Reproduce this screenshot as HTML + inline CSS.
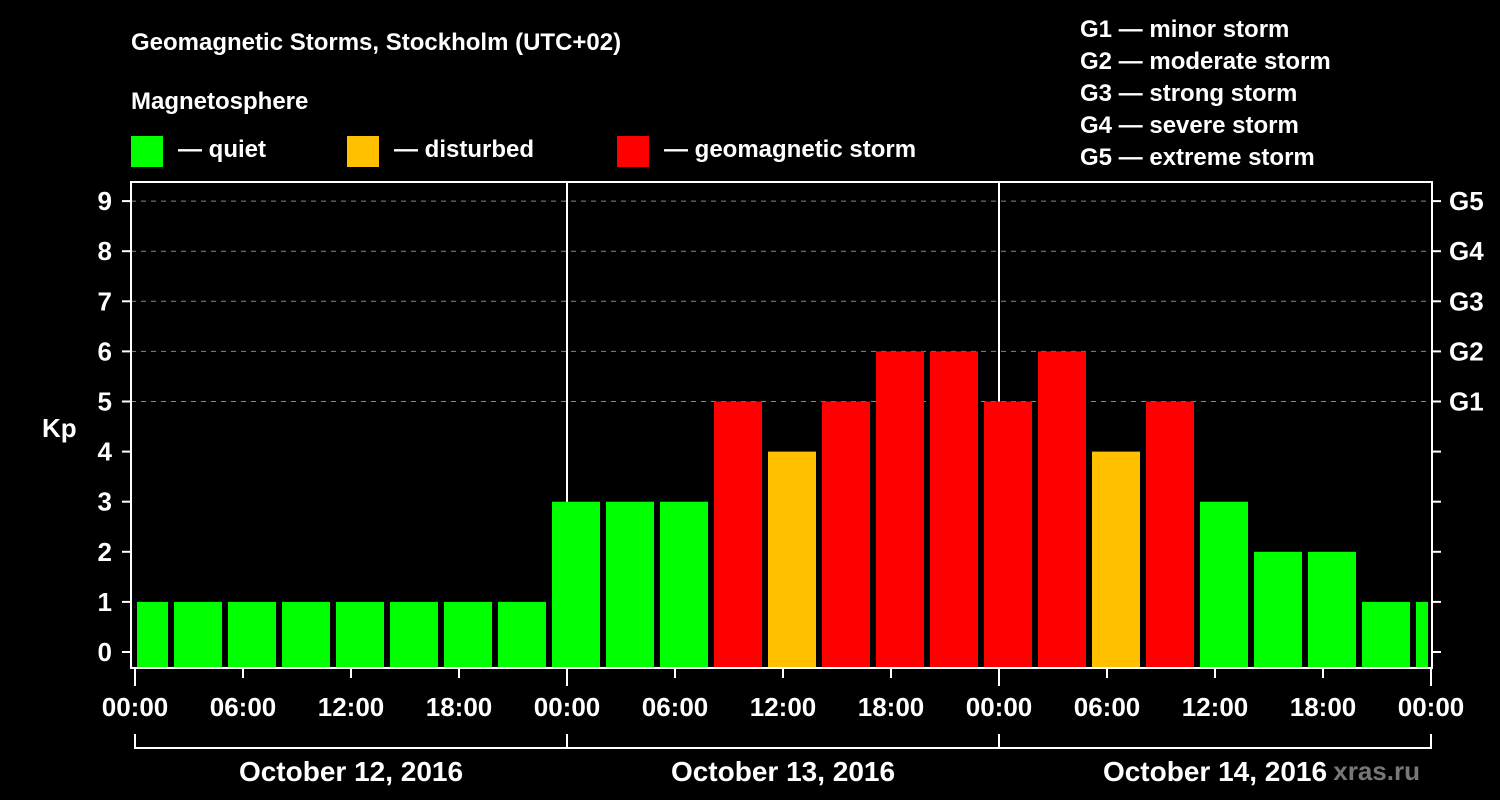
<!DOCTYPE html>
<html><head><meta charset="utf-8"><style>
html,body{margin:0;padding:0;background:#000;}
svg{display:block;font-family:"Liberation Sans",Arial,sans-serif;font-weight:bold;}
</style></head><body>
<svg id="c" width="1500" height="800" xmlns="http://www.w3.org/2000/svg">
<rect width="1500" height="800" fill="#000"/>
<text x="131" y="50" fill="#fff" font-size="24">Geomagnetic Storms, Stockholm (UTC+02)</text>
<text x="131" y="109" fill="#fff" font-size="24">Magnetosphere</text>
<g><rect x="131" y="136" width="32" height="31" fill="#00ff00"/><text x="178" y="157" fill="#fff" font-size="24">— quiet</text></g>
<g><rect x="347" y="136" width="32" height="31" fill="#ffc000"/><text x="394" y="157" fill="#fff" font-size="24">— disturbed</text></g>
<g><rect x="617" y="136" width="32" height="31" fill="#ff0000"/><text x="664" y="157" fill="#fff" font-size="24">— geomagnetic storm</text></g>
<g fill="#fff" font-size="24">
<text x="1080" y="37">G1 — minor storm</text>
<text x="1080" y="69">G2 — moderate storm</text>
<text x="1080" y="101">G3 — strong storm</text>
<text x="1080" y="133">G4 — severe storm</text>
<text x="1080" y="165">G5 — extreme storm</text>
</g>
<text x="42" y="437" fill="#fff" font-size="26">Kp</text>
<text x="1420" y="780" fill="#777" font-size="26" text-anchor="end">xras.ru</text>
<g id="grid"></g><g id="bars"></g><g id="axes"></g>
</svg>
<script>
const kpValues=[1,1,1,1,1,1,1,1,3,3,3,5,4,5,6,6,5,6,4,5,3,2,2,1,1];
const hourTicks=["00:00","06:00","12:00","18:00","00:00","06:00","12:00","18:00","00:00","06:00","12:00","18:00","00:00"];
const dayLabels=["October 12, 2016","October 13, 2016","October 14, 2016"];
const yTicks=[0,1,2,3,4,5,6,7,8,9];
const gLabels=["G1","G2","G3","G4","G5"];
const NS="http://www.w3.org/2000/svg";
const L=131,R=1432,T=182,B=668,X0=135,PXH=18;
const y=v=>652-v*50.1;
const x=h=>X0+h*PXH;
function mk(p,tag,a){const e=document.createElementNS(NS,tag);for(const k in a)e.setAttribute(k,a[k]);p.appendChild(e);return e;}
const grid=document.getElementById('grid'),bars=document.getElementById('bars'),axes=document.getElementById('axes');
yTicks.forEach(v=>{
 if(v>=5){const g=mk(grid,'line',{x1:L,x2:R,y1:y(v),y2:y(v),stroke:'#888','stroke-dasharray':'5,5','stroke-width':1});
 
 }
 const t=mk(axes,'line',{x1:122,x2:L,y1:y(v),y2:y(v),stroke:'#fff','stroke-width':2});
 
 
 const t2=mk(axes,'line',{x1:R,x2:1441,y1:y(v),y2:y(v),stroke:'#fff','stroke-width':2});
 
 
 const lb=mk(axes,'text',{x:112,y:y(v)+9,fill:'#fff','font-size':26,'text-anchor':'end'});lb.textContent=v;
 
 
 if(v>=5){const gl=mk(axes,'text',{x:1449,y:y(v)+9,fill:'#fff','font-size':26});gl.textContent=gLabels[v-5];
 
 }
});
[1,2].forEach(d=>{const l=mk(grid,'line',{x1:x(d*24),x2:x(d*24),y1:T,y2:B,stroke:'#fff','stroke-width':2});
 
 });
const cp=mk(bars,'clipPath',{id:'clip'});mk(cp,'rect',{x:X0+2,y:T,width:1428-X0-2,height:B-T});
kpValues.forEach((v,i)=>{
 const c=x(0.5+3*i);
 const col=v>=5?'#ff0000':(v>=4?'#ffc000':'#00ff00');
 const r=mk(bars,'rect',{x:c-24,y:y(v),width:48,height:667-y(v),fill:col,'clip-path':'url(#clip)'});
 
 
});
const fr=mk(axes,'rect',{x:L,y:T,width:R-L,height:B-T,fill:'none',stroke:'#fff','stroke-width':2});


hourTicks.forEach((s,i)=>{
 const xx=x(i*6),maj=i%4===0;
 const t=mk(axes,'line',{x1:xx,x2:xx,y1:B,y2:maj?686:678,stroke:'#fff','stroke-width':2});
 
 
 const lb=mk(axes,'text',{x:xx,y:716,fill:'#fff','font-size':26,'text-anchor':'middle'});lb.textContent=s;
 
 
});
const br=mk(axes,'line',{x1:x(0),x2:x(72),y1:748,y2:748,stroke:'#fff','stroke-width':2});


[0,1,2,3].forEach(d=>{const l=mk(axes,'line',{x1:x(d*24),x2:x(d*24),y1:734,y2:749,stroke:'#fff','stroke-width':2});
 
 });
dayLabels.forEach((s,d)=>{const lb=mk(axes,'text',{x:x(d*24+12),y:781,fill:'#fff','font-size':28,'text-anchor':'middle'});lb.textContent=s;
 
 });
</script>
</body></html>
